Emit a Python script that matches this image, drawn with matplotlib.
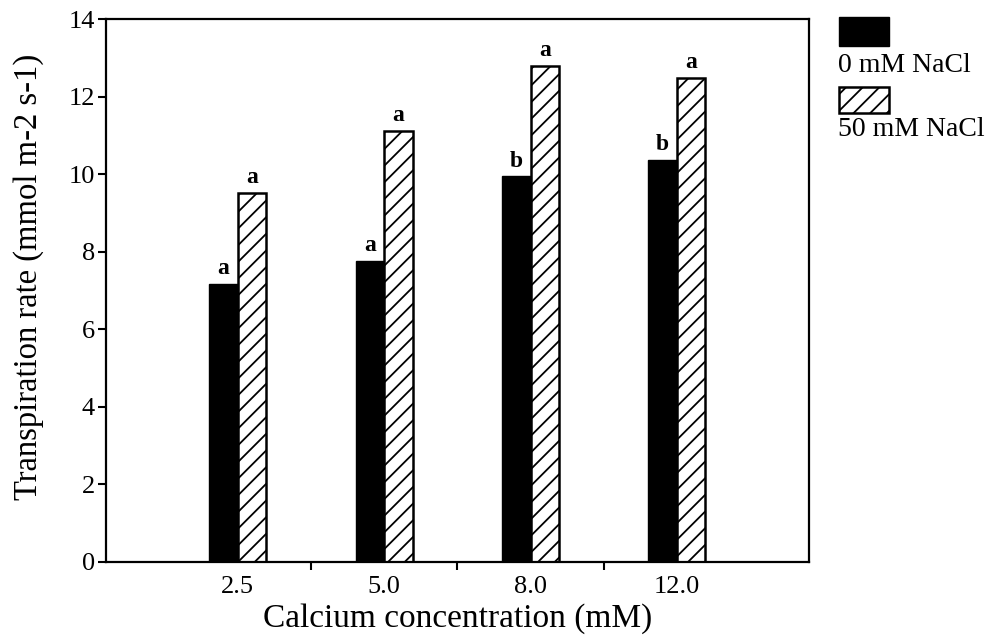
import matplotlib
matplotlib.use("Agg")
import matplotlib.pyplot as plt
import numpy as np
from matplotlib.patches import Rectangle

categories = ["2.5", "5.0", "8.0", "12.0"]
nacl_0 = [7.18, 7.76, 9.95, 10.38]
nacl_50 = [9.52, 11.12, 12.79, 12.48]
letters_0 = ["a", "a", "b", "b"]
letters_50 = ["a", "a", "a", "a"]
series_labels = ["0 mM NaCl", "50 mM NaCl"]

plt.rcParams['font.family'] = ['Liberation Serif', 'DejaVu Serif']
plt.rcParams['hatch.linewidth'] = 1.3

fig = plt.figure(figsize=(9.91, 6.40), dpi=100)
ax = fig.add_axes([0.107, 0.122, 0.709, 0.848])

x = np.arange(len(categories))
w = 0.195
ax.bar(x - w/2, nacl_0, width=w, color='black', edgecolor='black', linewidth=1.0)
ax.bar(x + w/2, nacl_50, width=w, color='white', edgecolor='black', linewidth=1.8, hatch='//')

for xi, v, l in zip(x, nacl_0, letters_0):
    ax.text(xi - w/2, v + 0.12, l, ha='center', va='bottom', fontsize=17, fontweight='bold')
for xi, v, l in zip(x, nacl_50, letters_50):
    ax.text(xi + w/2, v + 0.12, l, ha='center', va='bottom', fontsize=17, fontweight='bold')

ax.set_xlim(-0.9, 3.9)
ax.set_ylim(0, 14)
ax.set_yticks(np.arange(0, 15, 2))
ax.set_yticklabels([str(v) for v in range(0, 15, 2)], fontsize=19)
ax.set_xticks(x)
ax.set_xticklabels(categories, fontsize=19)
ax.tick_params(axis='x', which='major', length=0, pad=10)
ax.set_xticks([0.5, 1.5, 2.5], minor=True)
ax.tick_params(axis='x', which='minor', length=6, width=1.5, direction='out')
ax.tick_params(axis='y', length=6, width=1.5, direction='out', pad=2)
for s in ax.spines.values():
    s.set_linewidth(1.6)

ax.set_xlabel("Calcium concentration (mM)", fontsize=24, labelpad=4)
ax.set_ylabel("Transpiration rate (mmol m-2 s-1)", fontsize=23.5)
ax.yaxis.set_label_coords(-0.089, 0.525)

# legend (manual layout: patch above text)
W, H = fig.get_size_inches() * fig.dpi
r1 = Rectangle((839 / W, 1 - 46 / H), 50 / W, 29 / H, transform=fig.transFigure,
               facecolor='black', edgecolor='black', linewidth=1.0)
r2 = Rectangle((839 / W, 1 - 113 / H), 50 / W, 26 / H, transform=fig.transFigure,
               facecolor='white', edgecolor='black', linewidth=1.8, hatch='//')
fig.patches.extend([r1, r2])
fig.text(838 / W, 1 - 66 / H, series_labels[0], fontsize=20, va='center', ha='left')
fig.text(838 / W, 1 - 130 / H, series_labels[1], fontsize=20, va='center', ha='left')

fig.savefig("out.png", dpi=100)
